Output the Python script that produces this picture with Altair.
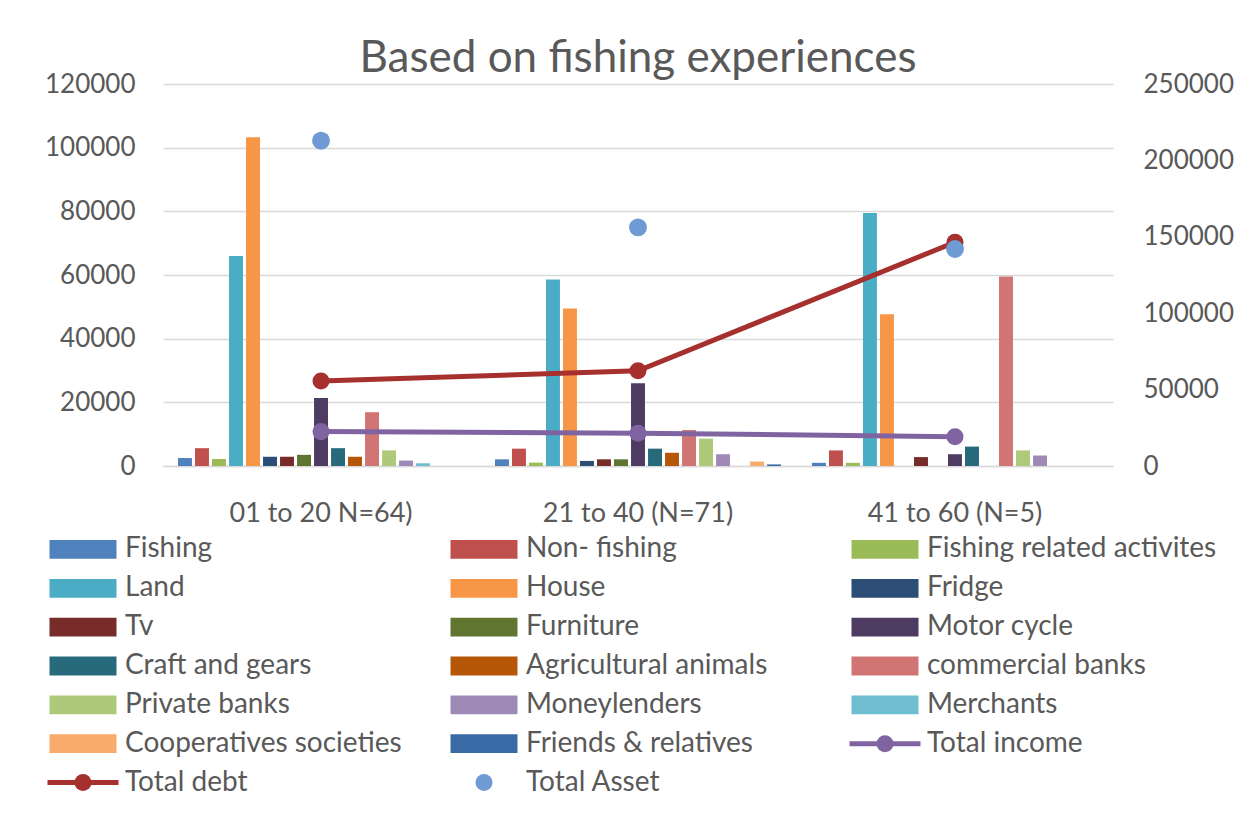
import altair as alt
import pandas as pd

# ---- chart data -------------------------------------------------------------
title_text = "Based on fishing experiences"

groups = ["01 to 20 N=64)", "21  to 40 (N=71)", "41 to 60 (N=5)"]

bar_series = [
    "Fishing", "Non- fishing", "Fishing related activites", "Land", "House",
    "Fridge", "Tv", "Furniture", "Motor cycle", "Craft and gears",
    "Agricultural animals", "commercial banks", "Private banks",
    "Moneylenders", "Merchants", "Cooperatives societies", "Friends & relatives",
]

# bar values per experience group (same order as bar_series)
group1_values = [2500, 5600, 2200, 66000, 103300, 2900, 2900, 3500, 21400,
                 5600, 2900, 16900, 4900, 1700, 850, 0, 0]
group2_values = [2100, 5450, 1050, 58600, 49500, 1600, 2100, 2100, 26000,
                 5450, 4200, 11300, 8600, 3700, 0, 1400, 500]
group3_values = [1000, 4900, 1000, 79500, 47700, 0, 2800, 0, 3700,
                 6100, 0, 59500, 4900, 3300, 0, 0, 0]

total_income = [10800, 10300, 9200]      # primary axis
total_debt = [26700, 29900, 70300]       # primary axis
total_asset = [212900, 156200, 142000]   # secondary axis

line_series = ["Total income", "Total debt"]
point_series = ["Total Asset"]

series_colors = [
    "#4F81BD", "#C0504D", "#9BBB59", "#4BACC6", "#F79646",
    "#2C4D75", "#772C2A", "#5F7530", "#4D3B62", "#276A7C",
    "#B65708", "#D07573", "#AFC97A", "#9F8AB7", "#6FBDD1",
    "#F9AB6B", "#3A6AA5",
    "#8064A2", "#A5302E", "#6F9BD5",
]

# ---- tables -------------------------------------------------------------------
bar_rows = []
for g, vals in zip(groups, [group1_values, group2_values, group3_values]):
    for s, v in zip(bar_series, vals):
        bar_rows.append({"group": g, "series": s, "value": v})
bars_df = pd.DataFrame(bar_rows)

line_rows = []
for s, vals in zip(line_series, [total_income, total_debt]):
    for g, v in zip(groups, vals):
        line_rows.append({"group": g, "series": s, "value": v})
lines_df = pd.DataFrame(line_rows)

asset_df = pd.DataFrame({"group": groups, "series": "Total Asset", "value": total_asset})

all_names = bar_series + line_series + point_series
color_scale = alt.Scale(domain=all_names, range=series_colors)

# legend order as laid out in three columns
legend_names = bar_series + ["Total income", "Total debt", "Total Asset"]
legend_kind = ["bar"] * len(bar_series) + ["line", "line", "dot"]
legend_df = pd.DataFrame({
    "name": legend_names,
    "kind": legend_kind,
    "row": [i // 3 for i in range(len(legend_names))],
    "col": [i % 3 for i in range(len(legend_names))],
})

# ---- styling -----------------------------------------------------------------
FONT = "Lato"
TEXT = "#595959"
GRID = "#d9d9d9"
PLOT_W = 950

x_enc = alt.X(
    "group:N", sort=groups,
    scale=alt.Scale(paddingInner=0.088, paddingOuter=0.0425),
    axis=alt.Axis(title=None, labelAngle=0, labelFontSize=27, labelPadding=34,
                  labelLimit=400, ticks=False, domain=True, domainColor=GRID,
                  domainWidth=1.5, grid=False),
)

left_axis = alt.Axis(title=None, values=[0, 20000, 40000, 60000, 80000, 100000, 120000],
                     format="d", labelFontSize=26, labelPadding=28, ticks=False,
                     domain=False, grid=True, gridColor=GRID, gridWidth=1.5)
right_axis = alt.Axis(title=None, orient="right",
                      values=[0, 50000, 100000, 150000, 200000, 250000],
                      format="d", labelFontSize=26, labelPadding=30, ticks=False,
                      domain=False, grid=False)

y_left = alt.Scale(domain=[0, 120000], nice=False)
y_right = alt.Scale(domain=[0, 250000], nice=False)

bars = alt.Chart(bars_df).mark_bar().encode(
    x=x_enc,
    xOffset=alt.XOffset("series:N", sort=bar_series,
                        scale=alt.Scale(paddingInner=0.18, paddingOuter=0.09)),
    y=alt.Y("value:Q", scale=y_left, axis=left_axis),
    color=alt.Color("series:N", scale=color_scale, legend=None),
)

lines = alt.Chart(lines_df).mark_line(
    strokeWidth=5,
    point=alt.OverlayMarkDef(size=290, filled=True, opacity=1),
).encode(
    x=x_enc,
    y=alt.Y("value:Q", scale=y_left, axis=left_axis),
    color=alt.Color("series:N", scale=color_scale, legend=None),
)

assets = alt.Chart(asset_df).mark_circle(size=320, opacity=1).encode(
    x=x_enc,
    y=alt.Y("value:Q", scale=y_right, axis=right_axis),
    color=alt.Color("series:N", scale=color_scale, legend=None),
)

main = alt.layer(alt.layer(bars, lines), assets).resolve_scale(y="independent").properties(
    width=PLOT_W, height=382,
    title=alt.TitleParams(title_text, fontSize=44, font=FONT, color=TEXT,
                          fontWeight="normal", anchor="middle", frame="group",
                          offset=-10),
)

# ---- legend drawn as its own small chart --------------------------------------
# the legend panel shares the plot's left edge; its first column sits to the left
COL_STEP = 401.0
COL0 = -80.0
lx_lo = -COL0 / COL_STEP
lx = alt.X("col:Q", scale=alt.Scale(domain=[lx_lo, lx_lo + PLOT_W / COL_STEP]), axis=None)
ly = alt.Y("row:Q", scale=alt.Scale(domain=[-0.5, 6.5], reverse=True), axis=None)
lcolor = alt.Color("name:N", scale=color_scale, legend=None)

lg = alt.Chart(legend_df)
swatches = lg.transform_filter(alt.datum.kind == "bar").mark_point(
    shape="M-1,-0.28H1V0.28H-1Z", size=4489, filled=True, opacity=1, strokeWidth=0,
).encode(x=lx, y=ly, color=lcolor)
line_keys = lg.transform_filter(alt.datum.kind == "line").mark_point(
    shape="M-1,0H1", size=5041, filled=False, strokeWidth=5, opacity=1,
).encode(x=lx, y=ly, color=lcolor)
dot_keys = lg.transform_filter(alt.datum.kind != "bar").mark_circle(
    size=290, opacity=1,
).encode(x=lx, y=ly, color=lcolor)
labels = lg.mark_text(align="left", baseline="middle", dx=42, fontSize=28,
                      font=FONT, color=TEXT).encode(x=lx, y=ly, text="name:N")

legend = alt.layer(swatches, line_keys, dot_keys, labels).properties(width=PLOT_W, height=272)

chart = alt.vconcat(main, legend, spacing=4).properties(
    padding={"left": 37, "top": 37, "right": 5, "bottom": 5},
    background="white",
).configure_view(stroke=None).configure_axis(
    labelFont=FONT, labelColor=TEXT,
).configure_text(font=FONT)

chart.save("out.html", embed_options={"renderer": "svg", "actions": False})
